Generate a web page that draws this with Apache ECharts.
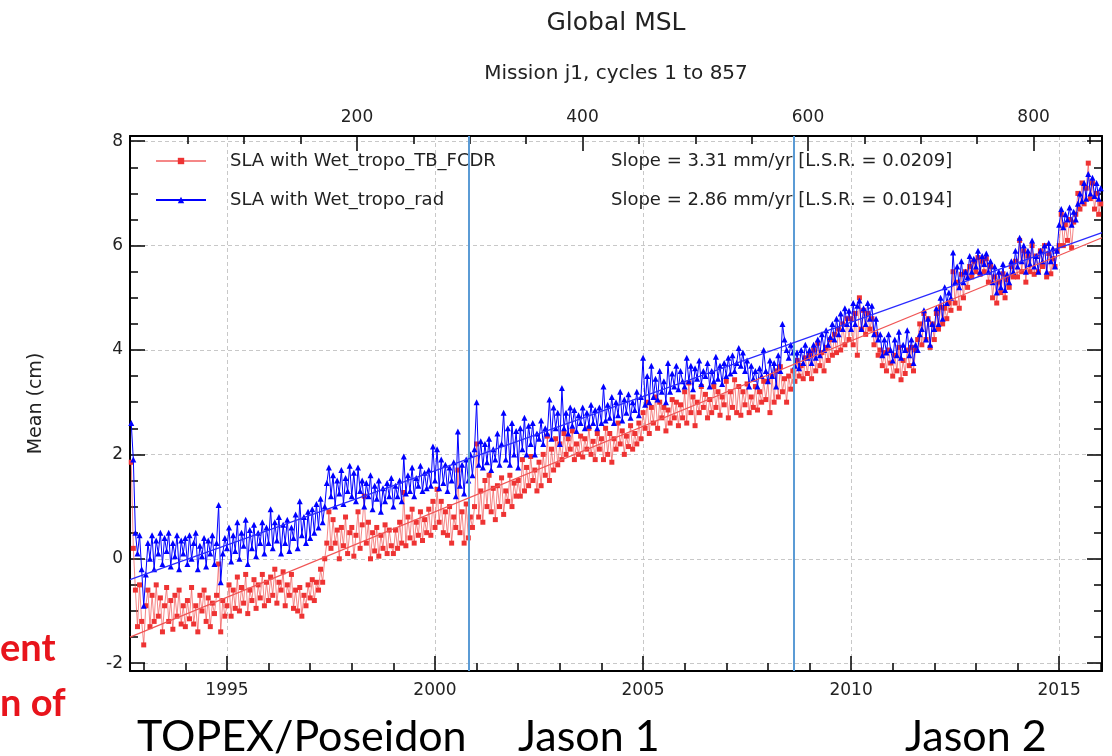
<!DOCTYPE html>
<html>
<head>
<meta charset="utf-8">
<script src="https://cdn.jsdelivr.net/npm/echarts@6/dist/echarts.min.js"></script>
<style>
  html, body { margin: 0; padding: 0; background: #fff; }
  #main { width: 1112px; height: 756px; }
</style>
</head>
<body>
<div id="main"></div>
<script>
// sampling of the series (decimal years)
var startYear = 1992.7;
var stepYear = 0.05;

// SLA with Wet_tropo_TB_FCDR (cm), one row per year
var redSLA = [
  1.85, 0.2, -0.6, -1.3, -0.5, -1.2,
  -1.65, -0.9, -0.6, -1.3, -0.7, -1.2, -0.5, -1.1, -0.75, -1.4, -0.9, -0.55, -1.2, -0.8, -1.35, -0.7, -1.1, -0.6, -1.25, -0.9,
  -1.3, -0.8, -1.15, -0.55, -1.25, -0.9, -1.4, -0.7, -1.0, -0.6, -1.2, -0.75, -1.3, -0.85, -1.05, -0.7, -0.1, -1.4, -0.8, -1.1,
  -0.9, -0.5, -1.1, -0.6, -0.95, -0.35, -1.0, -0.55, -0.85, -0.3, -1.05, -0.6, -0.8, -0.4, -0.95, -0.5, -0.75, -0.3, -0.9, -0.45,
  -0.8, -0.35, -0.7, -0.2, -0.85, -0.45, -0.6, -0.25, -0.9, -0.5, -0.7, -0.3, -0.95, -0.6, -1.0, -0.55, -1.1, -0.7, -0.9, -0.5,
  -0.75, -0.4, -0.8, -0.45, -0.6, -0.2, -0.45, 0.0, 0.3, 0.9, 0.2, 0.75, 0.3, 0.55, 0.0, 0.6, 0.25, 0.8, 0.1, 0.5,
  0.6, 0.05, 0.45, 0.9, 0.2, 0.65, 1.2, 0.3, 0.7, 0.0, 0.5, 0.15, 0.6, 0.05, 0.45, 0.2, 0.65, 0.1, 0.55, 0.25,
  0.1, 0.55, 0.2, 0.7, 0.3, 1.27, 0.25, 0.8, 0.4, 0.95, 0.3, 0.7, 0.45, 0.9, 0.35, 0.75, 0.5, 0.95, 0.45, 1.1,
  0.6, 1.33, 0.7, 1.1, 0.5, 0.9, 0.45, 1.0, 0.3, 0.8, 0.6, 1.7, 0.5, 0.9, 0.3, 1.05, 0.4, 0.8, 0.6, 1.0,
  2.2, 0.8, 1.3, 0.7, 1.5, 1.0, 1.6, 0.9, 1.35, 0.75, 1.4, 1.0, 1.55, 0.85, 1.3, 1.1, 1.6, 1.0, 1.45, 1.2,
  1.5, 1.2, 1.9, 1.3, 1.75, 1.4, 1.96, 1.5, 1.7, 1.3, 1.85, 1.4, 2.0, 1.6, 2.35, 1.5, 2.1, 1.7, 2.3, 1.8,
  2.2, 1.9, 2.4, 2.0, 2.3, 2.1, 2.45, 1.9, 2.2, 2.0, 2.35, 1.95, 2.3, 2.1, 2.5, 2.0, 2.25, 1.9, 2.4, 2.1,
  2.3, 1.9, 2.5, 2.0, 2.4, 1.85, 2.3, 2.1, 2.6, 2.2, 2.45, 2.0, 2.35, 2.15, 2.55, 2.1, 2.4, 2.2, 2.6, 2.3,
  2.8, 2.5, 3.0, 2.4, 2.9, 2.6, 3.1, 2.5, 3.0, 2.7, 2.9, 2.45, 2.85, 2.6, 3.05, 2.7, 3.0, 2.55, 2.95, 2.7,
  3.2, 2.6, 3.37, 2.8, 3.1, 2.55, 3.0, 2.8, 3.3, 2.9, 3.15, 2.7, 3.05, 2.8, 3.3, 2.9, 3.2, 2.75, 3.1, 2.95,
  3.4, 2.7, 3.2, 2.9, 3.43, 2.8, 3.3, 2.75, 3.2, 2.95, 3.35, 2.8, 3.1, 2.9, 3.3, 2.85, 3.2, 3.0, 3.4, 3.05,
  3.4, 2.8, 3.5, 3.0, 3.6, 3.1, 3.68, 3.2, 3.45, 3.0, 3.5, 3.25, 3.6, 3.4, 3.8, 3.5, 3.7, 3.45, 3.85, 3.55,
  3.9, 3.45, 4.0, 3.6, 4.13, 3.7, 3.95, 3.6, 4.05, 3.8, 4.2, 3.9, 4.3, 3.95, 4.4, 4.0, 4.5, 4.1, 4.6, 4.2,
  4.6, 4.1, 4.7, 3.9, 5.0, 4.4, 4.76, 4.3, 4.7, 4.4, 4.6, 4.1, 4.3, 3.9, 4.0, 3.7, 3.95, 3.6, 4.0, 3.75,
  3.5, 3.9, 3.6, 4.05, 3.43, 3.8, 3.55, 4.0, 3.7, 4.05, 3.6, 4.0, 4.2, 4.5, 4.1, 4.7, 4.2, 4.6, 4.05, 4.5,
  4.2, 4.7, 4.4, 4.82, 4.5, 4.8, 4.6, 4.9, 4.76, 5.5, 4.9, 5.3, 4.8, 5.45, 5.0, 5.5, 5.2, 5.6, 5.4, 5.7,
  5.5, 5.77, 5.45, 5.7, 5.5, 5.75, 5.3, 5.6, 5.0, 5.4, 4.9, 5.3, 5.1, 5.46, 5.0, 5.35, 5.2, 5.6, 5.4, 5.7,
  5.4, 6.1, 5.5, 5.9, 5.3, 5.8, 5.5, 6.0, 5.45, 5.8, 5.5, 5.9, 5.6, 6.0, 5.4, 5.85, 5.46, 5.75, 5.6, 5.9,
  6.0, 6.6, 6.0, 6.4, 6.1, 6.5, 5.96, 6.45, 6.6, 7.0, 6.7, 7.2, 6.8, 7.1, 7.58, 6.9, 7.2, 6.7, 7.0, 6.6,
  6.8
];

// SLA with Wet_tropo_rad (cm), one row per year
var blueSLA = [
  2.6, 1.9, 0.5, 0.1, 0.45, -0.2,
  -0.9, -0.3, 0.3, 0.0, 0.45, -0.2, 0.35, 0.1, 0.5, -0.1, 0.4, 0.15, 0.5, -0.15, 0.3, 0.05, 0.45, -0.2, 0.35, 0.1,
  0.4, -0.1, 0.45, 0.0, 0.3, 0.5, -0.2, 0.25, 0.05, 0.4, -0.15, 0.35, 0.1, 0.45, -0.1, 0.3, 1.03, -0.45, 0.1, 0.4,
  0.2, 0.6, -0.05, 0.45, 0.15, 0.7, 0.0, 0.5, 0.25, 0.75, -0.1, 0.55, 0.2, 0.65, 0.05, 0.5, 0.3, 0.7, 0.1, 0.6,
  0.3, 0.95, 0.2, 0.7, 0.35, 0.8, 0.1, 0.65, 0.3, 0.75, 0.15, 0.6, 0.4, 0.85, 0.2, 1.1, 0.45, 0.8, 0.3, 0.9,
  0.4, 0.95, 0.5, 1.05, 0.6, 1.15, 0.7, 1.0, 1.45, 1.75, 1.2, 1.6, 1.0, 1.5, 1.25, 1.7, 1.05, 1.55, 1.3, 1.78,
  1.2, 1.65, 1.1, 1.75, 1.3, 1.5, 1.0, 1.45, 1.2, 1.6, 0.95, 1.4, 1.15, 1.5, 0.9, 1.35, 1.1, 1.45, 1.2, 1.55,
  1.0, 1.4, 1.2, 1.5, 1.1, 1.96, 1.25, 1.6, 1.3, 1.75, 1.2, 1.55, 1.4, 1.78, 1.3, 1.65, 1.35, 1.7, 1.4, 2.15,
  1.5, 2.1, 1.35, 1.9, 1.45, 1.8, 1.3, 1.75, 1.5, 1.85, 1.2, 2.44, 1.4, 1.8, 1.25, 1.9, 1.5, 2.0, 1.6, 2.1,
  3.0, 1.8, 2.25, 1.75, 2.2, 1.85, 2.3, 1.7, 2.1, 1.9, 2.4, 1.8, 2.2, 2.8, 1.9, 2.5, 1.8, 2.6, 2.0, 2.45,
  1.75, 2.5, 2.1, 2.7, 2.0, 2.55, 2.2, 2.6, 2.0, 2.4, 2.3, 2.65, 2.2, 2.5, 2.4, 3.05, 2.3, 2.9, 2.5, 2.8,
  2.2, 3.27, 2.5, 2.8, 2.4, 2.9, 2.55, 2.85, 2.45, 2.75, 2.6, 2.9, 2.5, 2.8, 2.55, 2.95, 2.6, 2.85, 2.5, 2.9,
  2.6, 3.3, 2.65, 2.95, 2.7, 3.1, 2.6, 3.0, 2.75, 3.2, 2.65, 3.05, 2.8, 3.15, 2.7, 3.0, 2.85, 3.2, 2.75, 3.1,
  3.85, 2.95, 3.5, 3.0, 3.7, 3.1, 3.45, 3.05, 3.6, 3.2, 3.4, 3.0, 3.75, 3.2, 3.55, 3.3, 3.7, 3.25, 3.6, 3.4,
  3.3, 3.85, 3.4, 3.7, 3.25, 3.65, 3.45, 3.8, 3.35, 3.6, 3.5, 3.75, 3.3, 3.6, 3.4, 3.87, 3.45, 3.7, 3.35, 3.75,
  3.5, 3.85, 3.55, 3.9, 3.6, 3.75, 4.04, 3.7, 3.95, 3.6, 3.8, 3.3, 3.7, 3.45, 3.6, 3.3, 3.65, 3.5, 4.0, 3.6,
  3.4, 3.8, 3.5, 3.75, 3.3, 3.9, 3.6, 4.5, 4.2, 4.0, 3.85, 4.1, 3.95, 3.7, 3.95, 3.65, 4.0, 3.75, 4.1, 3.85,
  4.0, 3.75, 4.1, 3.85, 4.2, 3.9, 4.3, 4.0, 4.38, 4.1, 4.25, 4.5, 4.2, 4.6, 4.3, 4.7, 4.4, 4.8, 4.5, 4.75,
  4.4, 4.9, 4.5, 4.85, 4.95, 4.4, 4.8, 4.5, 4.9, 4.6, 4.85, 4.3, 4.6, 4.2, 4.3, 3.9, 4.2, 3.95, 4.3, 4.0,
  3.8, 4.2, 3.9, 4.35, 3.85, 4.1, 4.0, 4.38, 3.9, 4.2, 3.75, 4.1, 4.0, 4.3, 4.4, 4.76, 4.2, 4.6, 4.1, 4.5,
  4.4, 4.8, 4.5, 5.0, 4.6, 5.2, 4.9, 5.1, 5.0, 5.87, 5.3, 5.6, 5.2, 5.7, 5.3, 5.5, 5.4, 5.8, 5.5, 5.75,
  5.6, 5.9, 5.5, 5.8, 5.65, 5.85, 5.5, 5.7, 5.3, 5.6, 5.1, 5.5, 5.2, 5.65, 5.15, 5.45, 5.3, 5.7, 5.5, 5.9,
  5.6, 6.15, 5.7, 6.0, 5.5, 5.9, 5.65, 6.1, 5.6, 5.8, 5.5, 5.9, 5.7, 6.0, 5.5, 6.05, 5.7, 5.95, 5.6, 5.9,
  6.4, 6.7, 6.35, 6.6, 6.5, 6.73, 6.4, 6.65, 6.5, 6.8, 7.0, 6.85, 7.2, 6.9, 7.37, 7.0, 7.3, 6.95, 7.2, 6.9,
  7.1
];

// least-squares lines as drawn (end points)
var trendYears = [1992.67, 2016.03];
var redTrend = [-1.5, 6.15];
var blueTrend = [-0.4, 6.25];

// mission changes (vertical lines)
var missionChange = [2000.82, 2008.63];

// ticks
var yearTicks = [1995, 2000, 2005, 2010, 2015];
var yearMinor = [1993, 1994, 1995, 1996, 1997, 1998, 1999, 2000, 2001, 2002, 2003, 2004,
                 2005, 2006, 2007, 2008, 2009, 2010, 2011, 2012, 2013, 2014, 2015, 2016];
var cycleTicks = [200, 400, 600, 800];
var cycleMinor = [50, 100, 150, 200, 250, 300, 350, 400, 450, 500, 550, 600, 650, 700, 750, 800, 850];
var meanTicks = [-2, 0, 2, 4, 6, 8];
var meanMinor = [-1.5, -1, -0.5, 0.5, 1, 1.5, 2.5, 3, 3.5, 4.5, 5, 5.5, 6.5, 7, 7.5];

var legendNames = ['SLA with Wet_tropo_TB_FCDR', 'SLA with Wet_tropo_rad'];
var slopeTexts = ['Slope = 3.31 mm/yr [L.S.R. = 0.0209]', 'Slope = 2.86 mm/yr [L.S.R. = 0.0194]'];

var FONT = '"DejaVu Sans", sans-serif';
var BIG = 'Lato, "Open Sans", sans-serif';
var yearMin = 1992.67, yearMax = 2016.03;
var cycleMin = -1.3, cycleMax = 860.7;
var meanMin = -2.15, meanMax = 8.1;

function toPairs(vals) {
  return vals.map(function (v, i) { return [startYear + i * stepYear, v]; });
}
function linePairs(ys) {
  return trendYears.map(function (x, i) { return [x, ys[i]]; });
}

function majorAxis(pos, min, max, ticks, showLabels, grid) {
  return {
    type: 'value', position: pos, min: min, max: max,
    axisLine: { show: true, onZero: false, lineStyle: { color: '#000', width: 2 } },
    axisTick: { show: true, inside: true, length: 15, customValues: ticks,
                lineStyle: { color: '#000', width: 1.5 } },
    axisLabel: { show: showLabels, customValues: ticks, color: '#222', fontSize: 17,
                 fontFamily: FONT, margin: 11,
                 formatter: function (v) { return String(v); } },
    splitLine: { show: grid, lineStyle: { color: '#c8c8c8', type: [4, 3], width: 1 } }
  };
}
function minorAxis(pos, min, max, ticks) {
  return {
    type: 'value', position: pos, min: min, max: max,
    axisLine: { show: false, onZero: false },
    axisTick: { show: true, inside: true, length: 8, customValues: ticks,
                lineStyle: { color: '#000', width: 1.5 } },
    axisLabel: { show: false },
    splitLine: { show: false }
  };
}

var chart = echarts.init(document.getElementById('main'));

var yLeft = majorAxis('left', meanMin, meanMax, meanTicks, true, true);
yLeft.axisLabel.margin = 7;
yLeft.name = 'Mean (cm)';
yLeft.nameLocation = 'middle';
yLeft.nameGap = 84;
yLeft.nameTextStyle = { color: '#222', fontSize: 19, fontFamily: FONT };

var xTop = majorAxis('top', cycleMin, cycleMax, cycleTicks, true, false);
xTop.axisLabel.margin = 10;

var option = {
  backgroundColor: '#fff',
  animation: false,
  grid: { left: 130, right: 10, top: 136, bottom: 85, containLabel: false },
  legend: {
    data: legendNames,
    orient: 'vertical',
    left: 155, top: 152,
    padding: 0,
    itemGap: 21,
    itemWidth: 50,
    itemHeight: 8,
    textStyle: { color: '#222', fontSize: 18, fontFamily: FONT, padding: [0, 0, 0, 19] }
  },
  xAxis: [
    majorAxis('bottom', yearMin, yearMax, yearTicks, true, true),
    minorAxis('bottom', yearMin, yearMax, yearMinor),
    xTop,
    minorAxis('top', cycleMin, cycleMax, cycleMinor)
  ],
  yAxis: [
    yLeft,
    minorAxis('left', meanMin, meanMax, meanMinor),
    majorAxis('right', meanMin, meanMax, meanTicks, false, false),
    minorAxis('right', meanMin, meanMax, meanMinor)
  ],
  series: [
    {
      name: legendNames[0], type: 'line', xAxisIndex: 0, yAxisIndex: 0,
      data: toPairs(redSLA),
      symbol: 'rect', symbolSize: 5, showSymbol: true,
      lineStyle: { color: 'rgba(240,70,70,0.65)', width: 1 },
      itemStyle: { color: '#ee3333' },
      z: 3
    },
    {
      name: legendNames[1], type: 'line', xAxisIndex: 0, yAxisIndex: 0,
      data: toPairs(blueSLA),
      symbol: 'triangle', symbolSize: 6, showSymbol: true,
      lineStyle: { color: '#0000ff', width: 1 },
      itemStyle: { color: '#0000ff' },
      z: 4
    },
    {
      name: 'red trend', type: 'line', xAxisIndex: 0, yAxisIndex: 0,
      data: linePairs(redTrend), symbol: 'none',
      lineStyle: { color: '#f05555', width: 1.2 }, z: 5,
      markLine: {
        silent: true, symbol: 'none', label: { show: false },
        lineStyle: { color: '#5b9bd5', width: 2, type: 'solid' },
        data: missionChange.map(function (x) { return { xAxis: x }; })
      }
    },
    {
      name: 'blue trend', type: 'line', xAxisIndex: 0, yAxisIndex: 0,
      data: linePairs(blueTrend), symbol: 'none',
      lineStyle: { color: '#2a2aff', width: 1.2 }, z: 5
    }
  ],
  graphic: [
    { type: 'text', x: 616, y: 23, style: { text: 'Global MSL', font: '25px ' + FONT, fill: '#222', textAlign: 'center', textVerticalAlign: 'middle' } },
    { type: 'text', x: 616, y: 74, style: { text: 'Mission j1, cycles 1 to 857', font: '20px ' + FONT, fill: '#222', textAlign: 'center', textVerticalAlign: 'middle' } },
    { type: 'text', x: 611, y: 161, z: 10, style: { text: slopeTexts[0], font: '18px ' + FONT, fill: '#222', textAlign: 'left', textVerticalAlign: 'middle' } },
    { type: 'text', x: 611, y: 200, z: 10, style: { text: slopeTexts[1], font: '18px ' + FONT, fill: '#222', textAlign: 'left', textVerticalAlign: 'middle' } },
    { type: 'text', x: 137, y: 737, style: { text: 'TOPEX/Poseidon', font: '43px ' + BIG, fill: '#000', textAlign: 'left', textVerticalAlign: 'middle' } },
    { type: 'text', x: 518, y: 737, style: { text: 'Jason 1', font: '43px ' + BIG, fill: '#000', textAlign: 'left', textVerticalAlign: 'middle' } },
    { type: 'text', x: 905, y: 737, style: { text: 'Jason 2', font: '43px ' + BIG, fill: '#000', textAlign: 'left', textVerticalAlign: 'middle' } },
    { type: 'text', x: 0, y: 649, style: { text: 'ent', font: 'bold 38px ' + BIG, fill: '#e8141c', textAlign: 'left', textVerticalAlign: 'middle' } },
    { type: 'text', x: 0, y: 704, style: { text: 'n of', font: 'bold 38px ' + BIG, fill: '#e8141c', textAlign: 'left', textVerticalAlign: 'middle' } }
  ]
};

chart.setOption(option);
</script>
</body>
</html>
